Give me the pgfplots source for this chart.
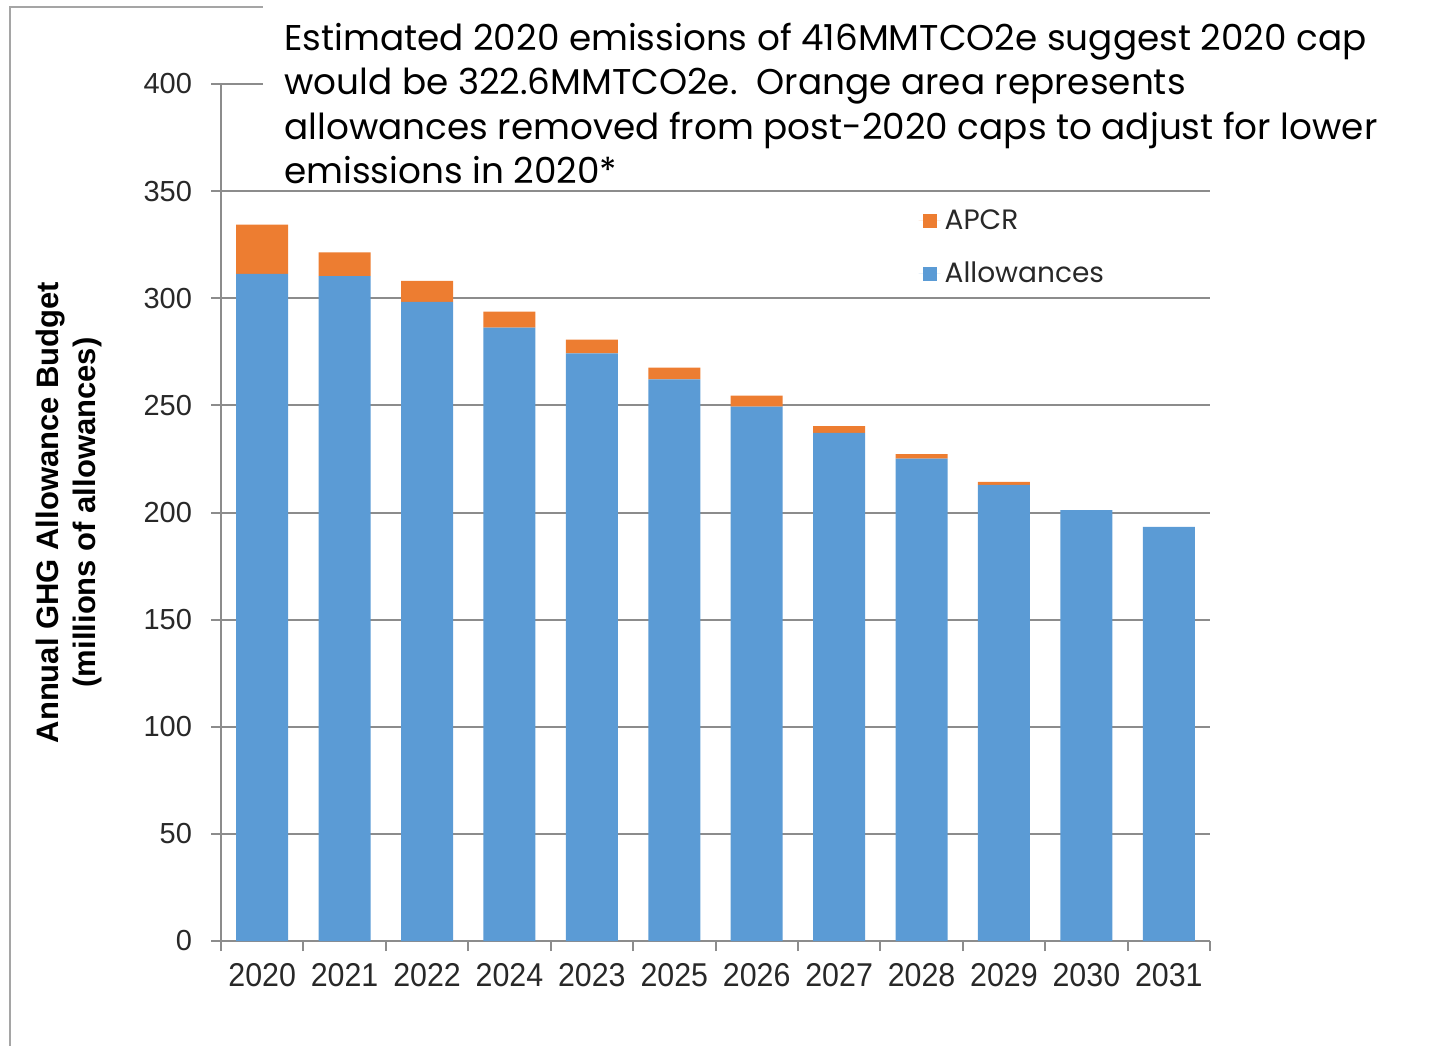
\documentclass[border=0pt]{standalone}
\usepackage{fontspec}
\usepackage{pgfplots}
\pgfplotsset{compat=1.18}
\setmainfont{Liberation Sans}
\newfontfamily\gothic{Poppins}
\newfontfamily\xtickfont[FakeStretch=0.92]{Liberation Sans}
\definecolor{apcr}{RGB}{237,125,49}
\definecolor{allow}{RGB}{91,155,213}
\definecolor{gridc}{RGB}{140,140,140}
\definecolor{framec}{RGB}{165,165,165}
\definecolor{txt}{RGB}{40,40,40}
\begin{document}
\begin{tikzpicture}
\path[use as bounding box] (0,0) rectangle (723bp,-523bp);
\draw[framec, line width=1bp] (5bp,-523bp) -- (5bp,-3.5bp) -- (131.5bp,-3.5bp);
\draw[framec, line width=1bp] (716bp,0bp) -- (716bp,-4bp);
\begin{axis}[
  at={(110.5bp,-470.5bp)}, anchor=south west,
  scale only axis, width=494.5bp, height=428.5bp,
  ybar stacked, bar width=26bp,
  xmin=-0.5, xmax=11.5, ymin=0, ymax=400,
  xtick={-0.5,0.5,1.5,2.5,3.5,4.5,5.5,6.5,7.5,8.5,9.5,10.5,11.5},
  xticklabels={},
  extra x ticks={0,1,2,3,4,5,6,7,8,9,10,11},
  extra x tick labels={2020,2021,2022,2024,2023,2025,2026,2027,2028,2029,2030,2031},
  extra x tick style={major tick length=0pt},
  ytick={0,50,...,400},
  axis lines*=left,
  axis line style={gridc, line width=1bp},
  tick align=outside,
  major tick length=5bp,
  tick style={gridc, line width=1bp},
  ymajorgrids, grid style={gridc, line width=1bp},
  /pgf/number format/assume math mode=true,
  yticklabel style={font=\fontsize{14.5bp}{14.5bp}\selectfont, text=txt, xshift=-6bp},
  xticklabel style={font=\xtickfont\fontsize{16.5bp}{16.5bp}\selectfont, text=txt, yshift=-7.5bp},
  ylabel={Annual GHG Allowance Budget\\(millions of allowances)},
  ylabel style={at={(axis description cs:-0.154,0.5)}, anchor=center, align=center,
    font=\bfseries\fontsize{15.5bp}{18.5bp}\selectfont, text=black},
  legend style={draw=none, fill=none, at={(0.705,0.859)}, anchor=north west,
    font=\gothic\fontsize{14bp}{14bp}\selectfont, legend cell align=left,
    row sep=11bp, inner sep=0pt, text=txt},
  reverse legend,
  legend image code/.code={\path (0bp,0bp) -- (11bp,0bp); \fill[#1] (2bp,-3.5bp) rectangle (9bp,3.5bp);},
]
\addplot[fill=allow, draw=none] coordinates {
(0,311.4) (1,310.3) (2,298.3) (3,286.3) (4,274.3) (5,262.1) (6,249.4) (7,237.2) (8,225.1) (9,212.9) (10,201.1) (11,193.3)};
\addplot[fill=apcr, draw=none] coordinates {
(0,23.0) (1,11.1) (2,9.8) (3,7.5) (4,6.4) (5,5.5) (6,5.1) (7,3.1) (8,2.2) (9,1.4) (10,0) (11,0)};
\legend{Allowances, APCR}
\end{axis}
\fill[white] (131.5bp,0bp) rectangle (723bp,-93.5bp);
\begin{scope}[every node/.style={anchor=base west, inner sep=0pt, font=\gothic\fontsize{17.9bp}{17.9bp}\selectfont, text=black}]
\node at (142bp,-25bp) {Estimated 2020 emissions of 416MMTCO2e suggest 2020 cap};
\node at (142bp,-47.25bp) {would be 322.6MMTCO2e.\ \ Orange area represents};
\node at (142bp,-69.5bp) {allowances removed from post-2020 caps to adjust for lower};
\node at (142bp,-91.5bp) {emissions in 2020*};
\end{scope}
\end{tikzpicture}
\end{document}
